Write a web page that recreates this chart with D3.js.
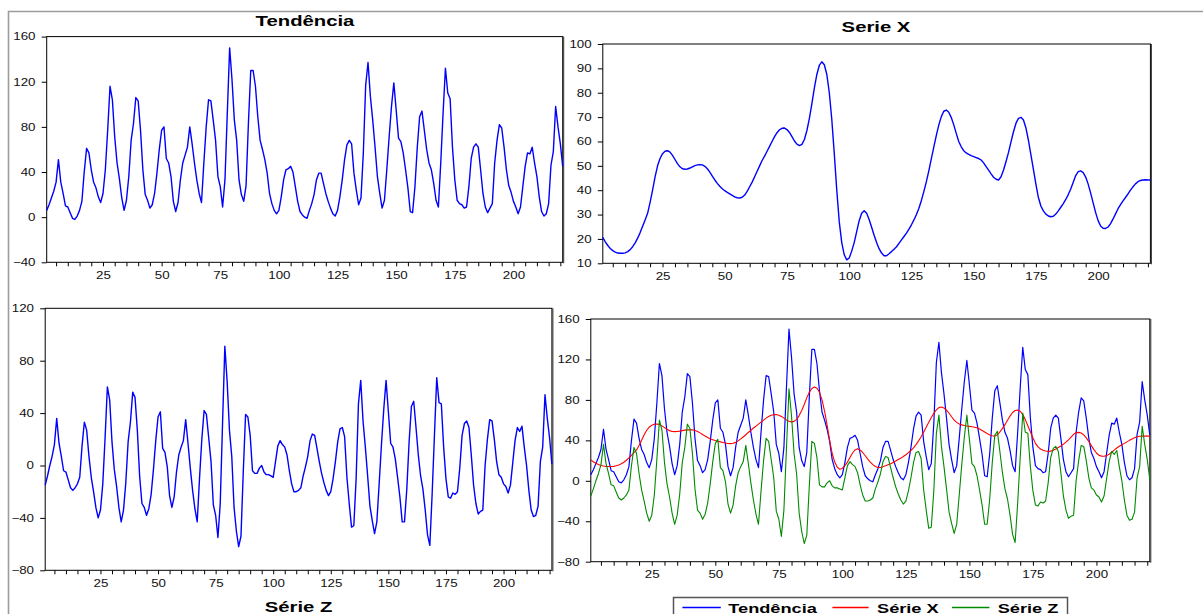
<!DOCTYPE html>
<html>
<head>
<meta charset="utf-8">
<script src="https://cdn.jsdelivr.net/npm/d3@7"></script>
<style>
  html, body { margin: 0; padding: 0; background: #fff; }
  svg { display: block; }
</style>
</head>
<body>
<svg id="chart" width="1203" height="614"></svg>
<script>
// ---------------- DATA ----------------
const obs = d3.range(1, 222); // observations 1..221

const tendencia = [6,11,17,23,31,51,31,21,10,9,4,-1,-2,1,6,14,40,61,57,42,
31,26,18,13,21,42,77,116,104,71,48,34,17,6,15,36,68,83,106,103,
77,42,20,15,8,11,21,39,60,77,80,52,48,36,14,5,13,33,48,55,
62,80,65,48,33,21,13,48,80,104,103,86,68,36,27,9,33,92,150,122,
86,68,33,20,14,28,83,130,130,116,89,68,60,51,39,21,12,6,3,6,
18,33,42,43,45,40,27,14,5,2,0,-1,6,12,20,33,39,39,30,21,
14,8,3,1,6,18,33,51,64,68,65,39,24,11,17,57,117,137,107,86,
62,36,21,8,15,42,71,98,119,95,70,67,57,42,26,5,4,27,62,89,
94,77,60,48,42,30,15,9,48,92,132,110,105,62,33,15,12,11,8,9,
27,52,62,65,62,42,21,9,4,8,12,48,68,82,79,62,42,28,22,14,
9,3,9,27,45,57,56,62,48,36,18,5,1,3,12,46,58,98,80,65,45];

const serieX = [20.7,18.8,17.3,16.1,15.2,14.6,14.2,14.1,14.1,14.3,14.8,15.6,16.8,18.4,20.3,22.6,25.2,27.8,30.5,35,
40,45.5,50,53,55,56,56.2,55.6,54.3,52.6,50.9,49.6,48.8,48.6,48.7,49.1,49.6,50.1,50.4,50.5,
50.4,49.8,48.8,47.4,45.8,44.2,42.8,41.6,40.6,39.8,39.1,38.5,37.9,37.3,36.9,36.8,37.1,38,39.5,41.4,
43.3,45.5,47.8,50,52.2,54,56,58,60,62,63.6,64.8,65.4,65.5,64.9,63.7,62,60.2,58.9,58.3,
58.8,60.8,64.5,69.5,75.5,82,87.5,91.3,92.7,91.5,87.5,80,69,55,40,27,18.5,13.5,11.4,12.2,
15,18.5,23,27.5,30.5,31.6,30.5,28,24.8,21.5,18.5,16,14.2,13.1,13.1,13.9,14.8,15.8,16.8,18.2,
19.6,21,22.4,24,25.8,27.8,30,32.6,35.8,39.5,43.5,48,53,57.8,62.5,66.8,70.2,72.4,72.9,72,
69.8,66.8,63.3,60,57.8,56.2,55.3,54.7,54.2,53.8,53.4,53,52.4,51.2,49.7,48.2,46.7,45.3,44.5,44.2,
45.5,48.3,51.8,55.5,59.8,64,67.5,69.5,69.9,68.8,65.5,60.5,54.5,48.5,42.5,37,33.5,31.5,30.2,29.4,
29.1,29.3,30.2,31.5,33,34.5,36.2,38.2,40.5,43.3,46,47.6,47.9,47.2,45.4,42.5,38.8,34.8,30.8,27.5,
25.3,24.4,24.3,24.9,26.3,28.2,30.3,32.4,34.1,35.6,37,38.5,40,41.4,42.6,43.5,44,44.2,44.3,44.2,44.2];

const serieZ = [-15,-8,0,7,16,36,17,7,-4,-5,-11,-17,-19,-17,-14,-9,15,33,27,7,
-9,-20,-32,-40,-34,-14,21,60,50,18,-3,-16,-32,-43,-34,-13,18,33,56,52,
27,-8,-29,-32,-38,-33,-22,-3,19,37,41,13,10,-1,-23,-32,-24,-5,8,14,
19,35,17,-2,-19,-33,-43,-10,20,42,39,21,3,-30,-38,-55,-29,32,91,64,
27,7,-32,-50,-62,-54,-5,39,37,23,-4,-6,-6,-2,0,-5,-7,-7,-8,-9,
3,15,19,16,14,8,-4,-14,-20,-20,-19,-17,-8,-1,7,19,24,23,13,3,
-6,-13,-19,-23,-20,-10,3,18,28,29,22,-9,-29,-47,-46,-10,47,65,34,14,
-8,-31,-42,-52,-43,-14,16,43,65,41,17,14,5,-9,-24,-43,-43,-18,18,45,
49,29,8,-8,-18,-34,-53,-61,-22,23,67,48,47,14,-10,-24,-25,-21,-22,-20,
-2,23,32,34,29,8,-15,-29,-37,-35,-34,0,20,35,34,20,3,-7,-9,-14,
-16,-21,-15,2,19,29,26,30,14,0,-19,-34,-39,-38,-31,3,14,54,36,21,1];

const xTicks = d3.range(5, 221, 5);      // minor tick positions every 5 obs
const xLabelEvery = 25;
const ticksTend = [-40, 0, 40, 80, 120, 160];
const ticksX = [10, 20, 30, 40, 50, 60, 70, 80, 90, 100];
const ticksZ = [-80, -40, 0, 40, 80, 120];
const ticksAll = [-80, -40, 0, 40, 80, 120, 160];

const seriesNames = ["Tendência", "Série X", "Série Z"];
const seriesColors = ["#0000ff", "#ff0000", "#008a00"];

// ---------------- DRAW ----------------
const svg = d3.select("#chart");
const FONT = "'Liberation Sans', Arial, sans-serif";
const SX = 1.27;   // horizontal stretch of text in the reference

// outer gray frame
svg.append("path")
  .attr("d", "M8.5,614 L8.5,11.5 L1203,11.5")
  .attr("fill", "none").attr("stroke", "#9c9c9c").attr("stroke-width", 1.6);

function panel(opts) {
  const { x0, x1, y0, y1, domain, yTicks } = opts;
  const g = svg.append("g");
  const x = d3.scaleLinear().domain([1, 221]).range([x0, x1]);
  const y = d3.scaleLinear().domain(domain).range([y1, y0]);

  // y axis
  const ya = g.append("g").attr("transform", `translate(${x0},0)`)
    .call(d3.axisLeft(y).tickValues(yTicks).tickSize(5).tickPadding(3.8).tickFormat(d3.format("d")));
  ya.select(".domain").remove();
  ya.selectAll("line").attr("stroke", "#000");
  ya.selectAll("text")
    .attr("font-family", FONT).attr("font-size", 10.5).attr("fill", "#111")
    .attr("transform", `scale(${SX},1)`);

  // x axis
  const xa = g.append("g").attr("transform", `translate(0,${y1})`)
    .call(d3.axisBottom(x).tickValues(xTicks).tickSize(4).tickPadding(5)
      .tickFormat(d => d % xLabelEvery === 0 ? d : ""));
  xa.select(".domain").remove();
  xa.selectAll("line").attr("stroke", "#000");
  xa.selectAll("text")
    .attr("font-family", FONT).attr("font-size", 10.5).attr("fill", "#111")
    .attr("transform", `scale(${SX},1)`);

  // frame
  g.append("rect").attr("x", x0).attr("y", y0).attr("width", x1 - x0).attr("height", y1 - y0)
    .attr("fill", "none").attr("stroke", "#000").attr("stroke-width", 1);
  g.append("line").attr("x1", x1 + 1).attr("x2", x1 + 1).attr("y1", y0).attr("y2", y1 + 1)
    .attr("stroke", "#333").attr("stroke-width", 1);

  return { g, x, y };
}

function drawLine(p, values, color, width) {
  const line = d3.line().x((d, i) => p.x(obs[i])).y(d => p.y(d));
  p.g.append("path").datum(values)
    .attr("d", line).attr("fill", "none")
    .attr("stroke", color).attr("stroke-width", width).attr("stroke-linejoin", "round");
}

function title(x, y, s, size) {
  svg.append("text")
    .attr("transform", `translate(${x},${y}) scale(1.45,1)`)
    .attr("text-anchor", "middle")
    .attr("font-family", FONT).attr("font-weight", "bold").attr("font-size", size)
    .attr("fill", "#000").text(s);
}

// Panel 1: Tendência
const p1 = panel({ x0: 46.7, x1: 562.7, y0: 36.6, y1: 262.3, domain: [-40, 160], yTicks: ticksTend });
drawLine(p1, tendencia, seriesColors[0], 1.4);
title(305, 25.5, "Tendência", 14);

// Panel 2: Serie X
const p2 = panel({ x0: 602.8, x1: 1150.4, y0: 44, y1: 263.3, domain: [10, 100], yTicks: ticksX });
drawLine(p2, serieX, seriesColors[0], 1.4);
title(876, 32, "Serie X", 14);

// Panel 3: Série Z
const p3 = panel({ x0: 45.2, x1: 551.9, y0: 308.3, y1: 570.3, domain: [-80, 120], yTicks: ticksZ });
drawLine(p3, serieZ, seriesColors[0], 1.4);
title(298.5, 612, "Série Z", 14);

// Panel 4: all series
const p4 = panel({ x0: 590.8, x1: 1149.8, y0: 319, y1: 561.7, domain: [-80, 160], yTicks: ticksAll });
drawLine(p4, tendencia, seriesColors[0], 1.2);
drawLine(p4, serieX, seriesColors[1], 1.1);
drawLine(p4, serieZ, seriesColors[2], 1.1);

// legend
const lg = svg.append("g");
lg.append("rect").attr("x", 673.5).attr("y", 597.5).attr("width", 394).attr("height", 30)
  .attr("fill", "#fff").attr("stroke", "#555").attr("stroke-width", 1.5);
const legendItems = [
  { x1: 682.4, x2: 720.8, tx: 728.3 },
  { x1: 832.4, x2: 868.6, tx: 877 },
  { x1: 952, x2: 989.4, tx: 997.7 }
];
legendItems.forEach((it, i) => {
  lg.append("line").attr("x1", it.x1).attr("x2", it.x2).attr("y1", 607.5).attr("y2", 607.5)
    .attr("stroke", seriesColors[i]).attr("stroke-width", 1.3);
  lg.append("text")
    .attr("transform", `translate(${it.tx},612.5) scale(1.4,1)`)
    .attr("font-family", FONT).attr("font-weight", "bold").attr("font-size", 13)
    .attr("fill", "#000").text(seriesNames[i]);
});
</script>
</body>
</html>
